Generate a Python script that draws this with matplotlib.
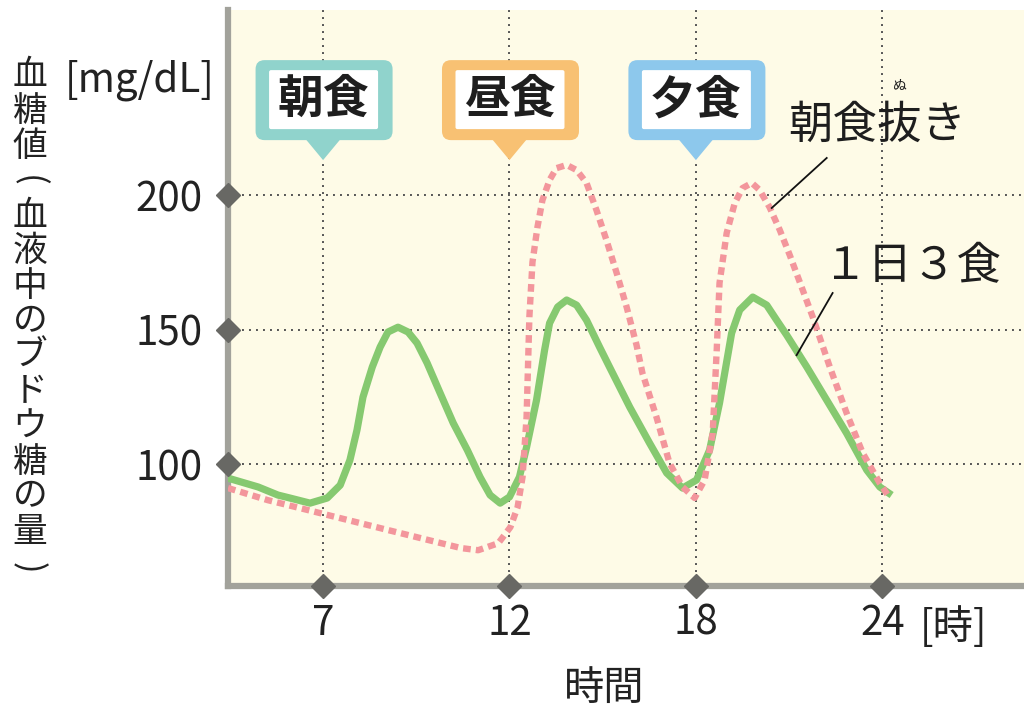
import numpy as np
import matplotlib
matplotlib.use('Agg')
import matplotlib.pyplot as plt
import matplotlib.transforms as mtrans
from matplotlib.patches import FancyBboxPatch, Polygon

plt.rcParams['font.family'] = ['Noto Sans CJK JP', 'DejaVu Sans']

# time of day [h] and blood glucose [mg/dL]
three_meals_h = [4.45, 5.26, 5.79, 6.11, 6.65, 7.11, 7.46, 7.72, 7.91, 8.07, 8.32, 8.53,
                 8.74, 9.01, 9.28, 9.52, 9.79, 10.14, 10.49, 10.87, 11.21, 11.48, 11.75,
                 12.00, 12.32, 12.55, 12.87, 13.13, 13.29, 13.55, 13.84, 14.16, 14.48,
                 14.90, 15.22, 15.87, 16.51, 17.06, 17.57, 18.02, 18.44, 18.76, 19.15,
                 19.41, 19.83, 20.28, 20.60, 20.92, 21.57, 22.21, 22.85, 23.50, 23.92,
                 24.30]
three_meals_v = [94.8, 91.5, 88.5, 87.4, 85.5, 87.4, 92.2, 101.5, 112.7, 124.9, 136.1, 143.5,
                 149.1, 150.9, 149.1, 145.0, 137.6, 126.4, 115.3, 105.2, 95.2, 88.5, 85.5,
                 87.8, 95.2, 106.3, 123.8, 142.4, 152.4, 158.4, 161.0, 159.1, 153.5,
                 143.5, 136.1, 121.2, 107.8, 96.7, 91.1, 94.1, 105.2, 122.7, 148.7,
                 157.3, 162.1, 159.1, 153.5, 148.0, 136.1, 123.8, 111.5, 97.8, 91.5,
                 88.5]

skip_breakfast_h = [4.45, 5.52, 6.60, 7.67, 8.74, 9.82, 10.70, 11.16, 11.70, 12.03, 12.26,
                    12.42, 12.55, 12.64, 12.74, 12.90, 13.06, 13.29, 13.51, 13.84, 14.16,
                    14.48, 14.80, 15.12, 15.45, 15.77, 16.09, 16.28, 16.73, 17.15, 17.57,
                    17.96, 18.28, 18.54, 18.67, 18.76, 18.99, 19.25, 19.50, 19.80, 20.05,
                    20.37, 20.70, 21.02, 21.76, 22.31, 22.85, 23.37, 23.92, 24.24]
skip_breakfast_v = [91.1, 86.6, 82.9, 79.2, 75.5, 71.8, 68.8, 68.0, 70.6, 76.6, 84.0,
                    95.2, 117.5, 154.7, 175.1, 188.1, 198.1, 205.6, 210.0, 211.2, 209.3,
                    204.5, 194.4, 183.3, 171.0, 158.4, 144.2, 133.8, 117.5, 100.4, 91.5,
                    87.4, 94.1, 111.5, 142.4, 167.3, 185.9, 197.0, 202.6, 204.5, 201.9,
                    195.5, 187.0, 177.7, 154.7, 136.1, 119.0, 104.1, 92.9, 87.4]

hour_ticks = [7, 12, 18, 24]
level_ticks = [100, 150, 200]
meals = ['朝食', '昼食', '夕食']
meal_hours = [7, 12, 18]
meal_colors = ['#90d3cc', '#f8c173', '#8dc8ec']


# ticks are evenly spaced although the hour gaps are not
def fwd(h):
    h = np.asarray(h, dtype=float)
    return np.where(h <= 12, (h - 7) / 5 + 1, (h - 12) / 6 + 2)


def inv(u):
    u = np.asarray(u, dtype=float)
    return np.where(u <= 2, (u - 1) * 5 + 7, (u - 2) * 6 + 12)


fig = plt.figure(figsize=(10.24, 7.09), dpi=100)
ax = fig.add_axes([228 / 1024, 123 / 709, 1 - 228 / 1024, 576 / 709])
ax.set_facecolor('#fefbe7')
ax.set_xscale('function', functions=(fwd, inv))
ax.set_xlim(4.45, 28.56)
ax.set_ylim(54.7, 268.8)

for side in ['top', 'right']:
    ax.spines[side].set_visible(False)
for side in ['left', 'bottom']:
    ax.spines[side].set_color('#a2a29b')
    ax.spines[side].set_linewidth(4.5)

ax.set_xticks(hour_ticks)
ax.set_xticklabels([str(t) for t in hour_ticks])
ax.set_yticks(level_ticks)
ax.set_yticklabels([str(t) for t in level_ticks])
ax.tick_params(length=0, labelsize=29, colors='#222222')
ax.tick_params(axis='x', pad=12)
ax.tick_params(axis='y', pad=18)
ax.grid(True, color='#555555', linestyle=(0, (1, 2.6)), linewidth=1.4)

# diamonds on the axes
ax.plot(hour_ticks, [54.7] * len(hour_ticks), 'D', ms=12, color='#686864',
        clip_on=False, zorder=6)
ax.plot([4.45] * len(level_ticks), level_ticks, 'D', ms=12, color='#686864',
        clip_on=False, zorder=6)

ax.plot(three_meals_h, three_meals_v, color='#86c970', lw=5.2,
        solid_capstyle='butt', solid_joinstyle='round', zorder=3)
ax.plot(skip_breakfast_h, skip_breakfast_v, color='#f3969c', lw=4.6,
        linestyle=(0, (1.2, 0.8)), dash_capstyle='butt', zorder=4)

# meal bubbles
for label, hour, col in zip(meals, meal_hours, meal_colors):
    tr = fig.dpi_scale_trans + mtrans.ScaledTranslation(hour, 235.3, ax.transData)
    ax.add_patch(FancyBboxPatch((-0.675, -0.40), 1.37, 0.80,
                                boxstyle='round,pad=0,rounding_size=0.09',
                                fc=col, ec='none', transform=tr, zorder=7))
    ax.add_patch(FancyBboxPatch((-0.54, -0.29), 1.09, 0.59,
                                boxstyle='round,pad=0,rounding_size=0.02',
                                fc='white', ec='none', transform=tr, zorder=8))
    ax.add_patch(Polygon([(-0.17, -0.395), (0.17, -0.395), (0, -0.60)],
                         closed=True, fc=col, ec='none', transform=tr, zorder=7))
    ax.text(hour, 235.3, label, ha='center', va='center', fontsize=33,
            fontweight='bold', color='#1e1e1e', zorder=9)

# series labels with leader lines
ax.text(23.82, 226, '朝食抜き', ha='center', va='center', fontsize=32, color='#1e1e1e')
ax.text(24.56, 240.5, 'ぬ', ha='center', va='center', fontsize=10, color='#1e1e1e')
ax.plot([22.21, 20.44], [213.8, 195.2], color='#111111', lw=1.3, zorder=5)
ax.text(24.95, 173.6, '１日３食', ha='center', va='center', fontsize=32, color='#1e1e1e')
ax.plot([22.40, 21.24], [163.6, 140.5], color='#111111', lw=1.3, zorder=5)

fig.text(140 / 1024, 1 - 80 / 709, '[mg/dL]', ha='center', va='center',
         fontsize=29, color='#222222')
fig.text(954 / 1024, 1 - 627 / 709, '[時]', ha='center', va='center',
         fontsize=29, color='#222222')
fig.text(604 / 1024, 1 - 688 / 709, '時間', ha='center', va='center',
         fontsize=29, color='#222222')

# vertical axis title, one character per row; brackets turned for vertical writing
ylabel = '血糖値(血液中のブドウ糖の量)'
for i, ch in enumerate(ylabel):
    y = 1 - (76 + i * 35.1) / 709
    if ch in '()':
        fig.text(18 / 1024, y, ch, ha='center', va='baseline', rotation=-90,
                 rotation_mode='anchor', fontsize=25, color='#222222')
    else:
        fig.text(30 / 1024, y, ch, ha='center', va='center',
                 fontsize=25, color='#222222')

fig.savefig('out.png', dpi=100, facecolor='white')
